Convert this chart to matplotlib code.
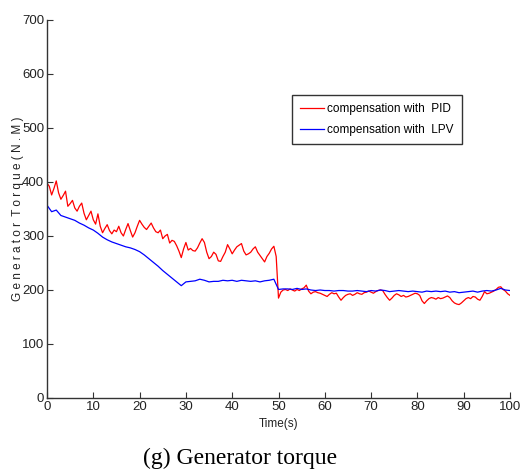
import numpy as np
import matplotlib
matplotlib.use('Agg')
import matplotlib.pyplot as plt

# PID compensated torque, sampled every 0.5 s (0 .. 100 s)
t_pid = np.arange(0, 100.01, 0.5)
torque_pid = [
    398, 392, 376, 388, 402, 380, 368, 375, 383, 355,
    360, 366, 352, 346, 355, 361, 342, 330, 338, 346,
    330, 322, 341, 318, 306, 314, 321, 310, 304, 311,
    308, 318, 306, 300, 312, 323, 310, 298, 306, 318,
    329, 322, 316, 312, 318, 324, 315, 308, 306, 311,
    295, 300, 303, 287, 292, 290, 282, 272, 260, 276,
    288, 274, 277, 273, 272, 278, 287, 295, 288, 270,
    258, 262, 270, 266, 254, 253, 262, 270, 284, 276,
    267, 274, 280, 283, 286, 272, 265, 267, 270, 276,
    280, 270, 264, 258, 252, 262, 268, 276, 281, 262,
    185, 196, 200, 201, 199, 202, 200, 198, 201, 199,
    202, 204, 209, 198, 193, 196, 197, 195, 194, 192,
    190, 188, 192, 195, 193, 194, 187, 181, 186, 190,
    192, 193, 190, 192, 195, 193, 192, 195, 196, 198,
    196, 194, 197, 199, 200, 199, 192, 186, 181, 185,
    190, 193, 191, 188, 190, 187, 188, 190, 192, 194,
    193, 190, 180, 175, 180, 184, 186, 185, 183, 186,
    184, 185, 187, 189, 186, 180, 176, 174, 173, 176,
    180, 184, 186, 184, 188, 187, 183, 181, 188, 197,
    193, 194, 196, 198, 201, 205, 206, 201, 198, 193,
    190,
]

# LPV compensated torque, sampled every 1 s
t_lpv = np.arange(0, 101, 1)
torque_lpv = [
    357, 345, 348, 338, 335, 332, 329, 324, 320, 315,
    311, 305, 298, 293, 289, 286, 283, 280, 278, 275,
    271, 265, 258, 251, 244, 236, 229, 222, 215, 208,
    215, 216, 217, 220, 218, 215, 216, 216, 218, 217,
    218, 216, 218, 217, 216, 217, 215, 217, 218, 220,
    201, 202, 202, 201, 203, 201, 202, 200, 199, 200,
    199, 199, 198, 199, 199, 198, 198, 199, 198, 197,
    199, 198, 200, 199, 197, 198, 199, 198, 197, 198,
    197, 196, 198, 197, 198, 197, 198, 196, 197, 195,
    196, 197, 198, 196, 198, 199, 198, 200, 203, 200,
    199,
]

x_ticks = np.arange(0, 101, 10)
y_ticks = np.arange(0, 701, 100)

sans = ['Liberation Sans', 'DejaVu Sans']

fig = plt.figure(figsize=(5.2, 4.75), dpi=100)
ax = fig.add_axes([47/520, 1 - 398/475, 463/520, 378/475])

ax.plot(t_pid, torque_pid, color='#ff0000', lw=0.9, label='compensation with  PID')
ax.plot(t_lpv, torque_lpv, color='#0000ff', lw=0.9, label='compensation with  LPV')

ax.set_xlim(0, 100)
ax.set_ylim(0, 700)
ax.set_xticks(x_ticks)
ax.set_yticks(y_ticks)
ax.spines['top'].set_visible(False)
ax.spines['right'].set_visible(False)
for s in ['left', 'bottom']:
    ax.spines[s].set_color('#333333')
    ax.spines[s].set_linewidth(1.0)
ax.tick_params(direction='in', length=4, width=0.8, pad=2, colors='#333333')
for lab in ax.get_xticklabels() + ax.get_yticklabels():
    lab.set_family(sans)
    lab.set_fontsize(9.5)
    lab.set_color('#222222')

ax.set_xlabel('Time(s)', family=sans, fontsize=8.5, color='#222222', labelpad=4)
ax.text(-0.063, 0.5, 'G e n e r a t o r  T o r q u e ( N . M )', transform=ax.transAxes,
        rotation=90, ha='center', va='center', family=sans, fontsize=8.5, color='#222222')

leg = ax.legend(loc='upper left', bbox_to_anchor=(292/520, 1 - 95/475),
                bbox_transform=fig.transFigure, borderaxespad=0,
                prop={'family': sans, 'size': 8.5}, fancybox=False,
                handlelength=2.0, handletextpad=0.3, borderpad=0.7, labelspacing=0.75)
leg.get_frame().set_edgecolor('black')
leg.get_frame().set_linewidth(1.0)

fig.text(240/520, 1 - 458/475, '(g) Generator torque', ha='center', va='center',
         family=['Liberation Serif', 'DejaVu Serif'], fontsize=17)

fig.savefig('out.png', dpi=100)
